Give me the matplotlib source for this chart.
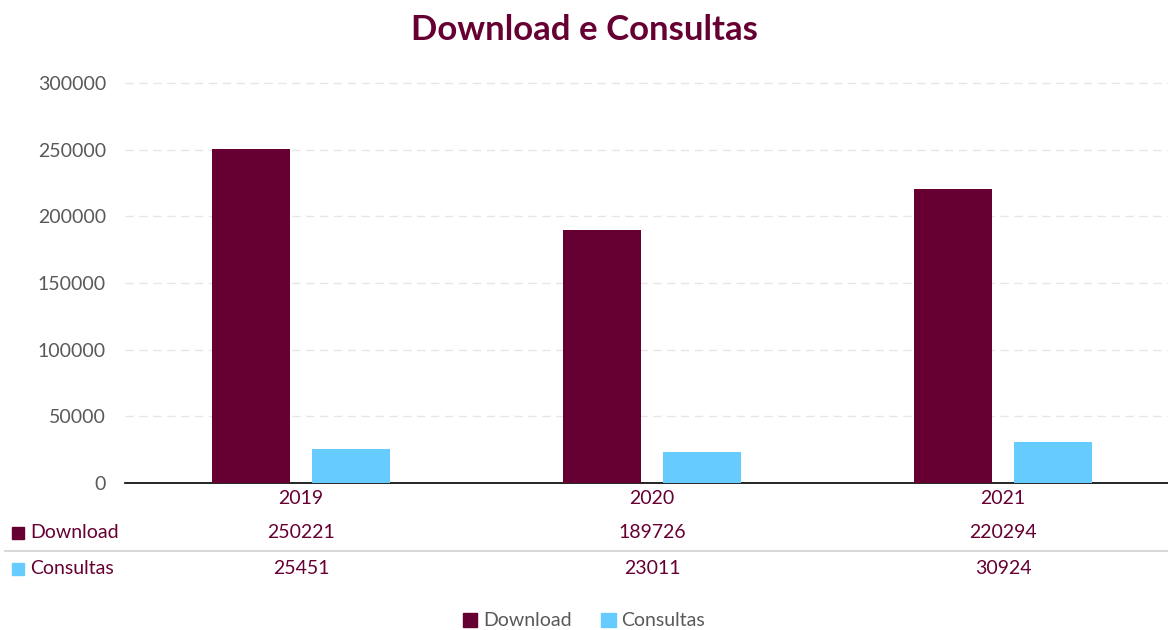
import matplotlib.pyplot as plt
import matplotlib.transforms as mtransforms
import numpy as np

plt.rcParams['font.family'] = ['Lato', 'DejaVu Sans']

years = ["2019", "2020", "2021"]
download = [250221, 189726, 220294]
consultas = [25451, 23011, 30924]
series_names = ["Download", "Consultas"]
colors = ["#660033", "#66CCFF"]
yticks = [0, 50000, 100000, 150000, 200000, 250000, 300000]

fig = plt.figure(figsize=(11.68, 6.3), dpi=100)
ax = fig.add_axes([0.1074, 0.2333, 0.9016, 0.635])

x = np.arange(len(years))
w = 0.222
off = 0.1425
ax.bar(x - off, download, w, color=colors[0], zorder=3)
ax.bar(x + off, consultas, w, color=colors[1], zorder=3)

ax.set_xlim(-0.5, 2.5)
ax.set_ylim(0, 300000)
ax.set_yticks(yticks)
ax.set_yticklabels([str(v) for v in yticks], fontsize=14, color="#595959")
ax.set_xticks([])
for v in yticks[1:]:
    ax.axhline(v, color="#E6E6E6", lw=1, ls=(0, (6, 4)), zorder=1, clip_on=False)
for s in ["top", "right", "left"]:
    ax.spines[s].set_visible(False)
ax.spines["bottom"].set_color("black")
ax.spines["bottom"].set_linewidth(1.2)
ax.tick_params(axis="y", length=0, pad=14)

fig.text(0.5, 0.953, "Download e Consultas", ha="center", va="center",
         fontsize=25, fontweight="bold", color="#660033")

# data table under the axis
trans = mtransforms.blended_transform_factory(ax.transData, fig.transFigure)
dark = "#660033"
for i, yr in enumerate(years):
    ax.text(i, 1 - 499 / 630, yr, transform=trans, ha="center", va="center",
            fontsize=14, color=dark)
    ax.text(i, 1 - 533 / 630, str(download[i]), transform=trans, ha="center",
            va="center", fontsize=14, color=dark)
    ax.text(i, 1 - 569 / 630, str(consultas[i]), transform=trans, ha="center",
            va="center", fontsize=14, color=dark)

for name, c, yp in zip(series_names, colors, [533, 569]):
    fig.patches.append(plt.Rectangle((12 / 1168, 1 - (yp + 6) / 630), 12 / 1168, 12 / 630,
                                     transform=fig.transFigure, color=c, figure=fig))
    fig.text(30 / 1168, 1 - yp / 630, name, ha="left", va="center", fontsize=14, color=dark)

fig.add_artist(plt.Line2D([5 / 1168, 1.0], [1 - 551 / 630] * 2, color="#D9D9D9", lw=1.5,
                          transform=fig.transFigure))

# legend
handles = [plt.Rectangle((0, 0), 1, 1, color=c) for c in colors]
fig.legend(handles, series_names, loc="center", bbox_to_anchor=(0.5, 1 - 621 / 630),
           ncol=2, frameon=False, fontsize=14, handlelength=0.75, handleheight=0.75,
           handletextpad=0.3, columnspacing=1.5, labelcolor="#595959")

fig.savefig("out.png", dpi=100)
